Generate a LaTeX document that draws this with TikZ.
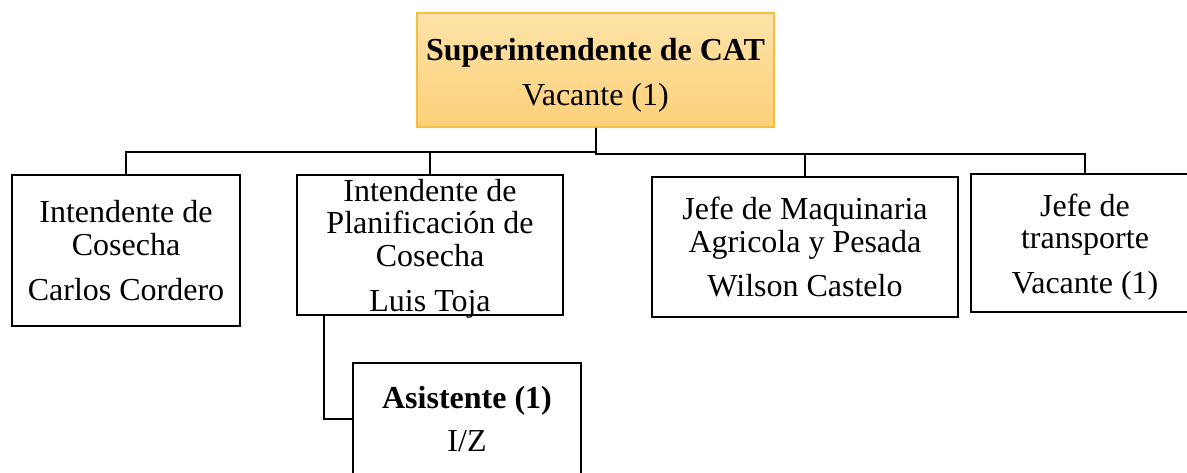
\documentclass[tikz,border=0pt]{standalone}
\usepackage{fontspec}
\setmainfont{Liberation Serif}
\begin{document}
\begin{tikzpicture}[x=0.75pt,y=-0.75pt,
  box/.style={draw=black, line width=1.5pt, fill=white, inner sep=0pt},
  topbox/.style={draw={rgb,255:red,244;green,190;blue,66}, line width=0.8pt, inner sep=0pt,
     top color={rgb,255:red,254;green,227;blue,168}, bottom color={rgb,255:red,252;green,208;blue,120}},
  txt/.style={align=center, inner sep=0pt, font=\fontsize{24}{24.5}\selectfont},
  conn/.style={draw=black, line width=1.5pt}]
\useasboundingbox (0,0) rectangle (1187,472);
\fill[white] (0,0) rectangle (1187,472);
\clip (0,0) rectangle (1187,472);
% boxes
\node[topbox, minimum width=267.75pt, minimum height=85.5pt] (top) at (595.5,70) {};
\node[box, minimum width=171pt, minimum height=113.25pt] (b1) at (126,250.5) {};
\node[box, minimum width=199.5pt, minimum height=105pt] (b2) at (430,245) {};
\node[box, minimum width=229.5pt, minimum height=105pt] (b3) at (805,247) {};
\node[box, minimum width=171pt, minimum height=103.5pt] (b4) at (1085,243) {};
\node[box, minimum width=171pt, minimum height=84pt] (as) at (467,419) {};
% connectors
\draw[conn] (top.south) -- ++(0,-18pt) -| (b1.north);
\draw[conn] (top.south) -- ++(0,-18pt) -| (b2.north);
\draw[conn] (top.south) -- ++(0,-19.5pt) -| (b3.north);
\draw[conn] (top.south) -- ++(0,-19.5pt) -| (b4.north);
\draw[conn] ([xshift=21pt]b2.south west) |- (as.west);
% texts
\node[txt] (t0) at ([yshift=-3.75pt]top.center) {\textbf{Superintendente de CAT}\\[9pt]Vacante (1)};
\node[txt] (t1) at (b1) {Intendente de\\Cosecha\\[9pt]Carlos Cordero};
\node[txt] (t2) at ([yshift=-2.5pt]b2.center) {Intendente de\\Planificación de\\Cosecha\\[9pt]Luis Toja};
\node[txt] (t3) at (b3) {Jefe de Maquinaria\\Agricola y Pesada\\[9pt]Wilson Castelo};
\node[txt] (t4) at ([yshift=-3pt]b4.center) {Jefe de\\transporte\\[9pt]Vacante (1)};
\node[txt] (t5) at (as) {\textbf{Asistente (1)}\\[8pt]I/Z};
\end{tikzpicture}
\end{document}
